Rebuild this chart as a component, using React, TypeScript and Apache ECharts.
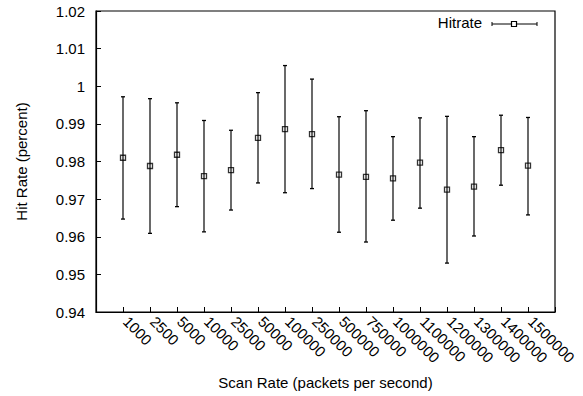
import React, { useEffect, useRef } from "react";
import * as echarts from "echarts";

const categories = ["1000", "2500", "5000", "10000", "25000", "50000", "100000", "250000", "500000", "750000", "1000000", "1100000", "1200000", "1300000", "1400000", "1500000"];
const hitRate = [0.9810, 0.9788, 0.9818, 0.9761, 0.9777, 0.9863, 0.9886, 0.9873, 0.9765, 0.9759, 0.9755, 0.9797, 0.9725, 0.9733, 0.9830, 0.9789];
const lowErr = [0.9647, 0.9609, 0.9680, 0.9613, 0.9671, 0.9743, 0.9717, 0.9728, 0.9612, 0.9586, 0.9644, 0.9676, 0.9530, 0.9602, 0.9737, 0.9658];
const highErr = [0.9972, 0.9967, 0.9956, 0.9909, 0.9883, 0.9983, 1.0055, 1.0019, 0.9919, 0.9935, 0.9866, 0.9916, 0.9920, 0.9866, 0.9923, 0.9917];
const yTicks = { min: 0.94, max: 1.02, step: 0.01 };

const FONT = "Liberation Sans, Arial, Helvetica, sans-serif";

export default function App() {
  const ref = useRef<HTMLDivElement>(null);
  useEffect(() => {
    if (!ref.current) return;
    const chart = echarts.init(ref.current, null, { renderer: "svg" });
    const pts = hitRate.map((v, i) => [i + 1, v]);
    const bars = hitRate.map((_, i) => [i + 1, lowErr[i], highErr[i]]);
    chart.setOption({
      animation: false,
      backgroundColor: "#fff",
      textStyle: { fontFamily: FONT },
      grid: {
        left: 96,
        right: 28,
        top: 11,
        bottom: 84,
        show: true,
        borderColor: "#000",
        borderWidth: 1.2,
      },
      xAxis: {
        type: "value",
        min: 0,
        max: categories.length + 1,
        interval: 1,
        name: "Scan Rate (packets per second)",
        nameLocation: "middle",
        nameGap: 63,
        nameTextStyle: { fontSize: 15, color: "#000", fontFamily: FONT },
        axisLine: { show: true, onZero: false, lineStyle: { color: "#000", width: 1.2 } },
        axisTick: { show: true, inside: true, length: 5, lineStyle: { color: "#000" } },
        splitLine: { show: false },
        axisLabel: {
          rotate: -45,
          margin: 4,
          padding: [0, 0, 0, 4],
          fontSize: 15,
          color: "#000",
          fontFamily: FONT,
          formatter: (v: number) => categories[Math.round(v) - 1] ?? "",
        },
      },
      yAxis: {
        type: "value",
        min: yTicks.min,
        max: yTicks.max,
        interval: yTicks.step,
        name: "Hit Rate (percent)",
        nameLocation: "middle",
        nameGap: 67,
        nameTextStyle: { fontSize: 15, color: "#000", fontFamily: FONT },
        axisLine: { show: true, lineStyle: { color: "#000", width: 1.2 } },
        axisTick: { show: true, inside: true, length: 5, lineStyle: { color: "#000" } },
        splitLine: { show: false },
        axisLabel: {
          margin: 11,
          fontSize: 15,
          color: "#000",
          fontFamily: FONT,
          formatter: (v: number) => String(parseFloat(v.toFixed(2))),
        },
      },
      series: [
        {
          type: "custom",
          name: "Hitrate",
          data: bars,
          renderItem: (params: any, api: any) => {
            const x = api.value(0);
            const lo = api.coord([x, api.value(1)]);
            const hi = api.coord([x, api.value(2)]);
            const cw = 2;
            return {
              type: "group",
              children: [
                { type: "line", shape: { x1: lo[0], y1: lo[1], x2: hi[0], y2: hi[1] }, style: { stroke: "#444", lineWidth: 1.6 } },
                { type: "line", shape: { x1: lo[0] - cw, y1: lo[1], x2: lo[0] + cw, y2: lo[1] }, style: { stroke: "#000", lineWidth: 1.3 } },
                { type: "line", shape: { x1: hi[0] - cw, y1: hi[1], x2: hi[0] + cw, y2: hi[1] }, style: { stroke: "#000", lineWidth: 1.3 } },
              ],
            };
          },
          z: 2,
        },
        {
          type: "scatter",
          name: "HitrateMarker",
          data: pts,
          symbol: "rect",
          symbolSize: 5,
          itemStyle: { color: "rgba(0,0,0,0)", borderColor: "#000", borderWidth: 1.3 },
          z: 3,
        },
      ],
      graphic: [
        { type: "text", right: 101, top: 15, style: { text: "Hitrate", font: `15px ${FONT}`, fill: "#000" } },
        { type: "line", shape: { x1: 492, y1: 24, x2: 537, y2: 24 }, style: { stroke: "#000", lineWidth: 1 } },
        { type: "line", shape: { x1: 492, y1: 22, x2: 492, y2: 26 }, style: { stroke: "#000", lineWidth: 1 } },
        { type: "line", shape: { x1: 537, y1: 22, x2: 537, y2: 26 }, style: { stroke: "#000", lineWidth: 1 } },
        { type: "rect", shape: { x: 511.5, y: 21.5, width: 5, height: 5 }, style: { fill: "#fff", stroke: "#000", lineWidth: 1.2 } },
      ],
    });
    return () => chart.dispose();
  }, []);
  return <div ref={ref} style={{ position: "fixed", left: 0, top: 0, width: 583, height: 396 }} />;
}
